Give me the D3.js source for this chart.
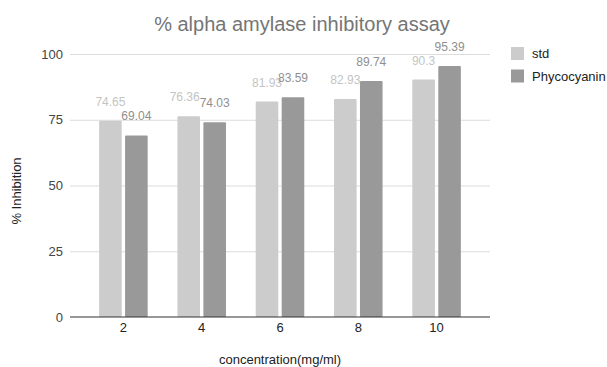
<!DOCTYPE html>
<html>
<head>
<meta charset="utf-8">
<script src="https://cdn.jsdelivr.net/npm/d3@7"></script>
<style>
  html, body { margin: 0; padding: 0; background: #fff; }
  svg { display: block; font-family: "Liberation Sans", Arial, sans-serif; }
</style>
</head>
<body>
<svg id="chart" width="607" height="367"></svg>
<script>
// Concentrations (mg/ml) and % inhibition for each sample
const concentrations = ["2", "4", "6", "8", "10"];
const seriesNames = ["std", "Phycocyanin"];
const stdValues = [74.65, 76.36, 81.93, 82.93, 90.3];
const phycocyaninValues = [69.04, 74.03, 83.59, 89.74, 95.39];
const yTicks = [0, 25, 50, 75, 100];

const seriesColors = ["#cccccc", "#999999"];
const labelColors = ["#c4c4c4", "#8f8f8f"];

const svg = d3.select("#chart");
const plot = { left: 70, right: 490, top: 54, bottom: 317 };

const x0 = d3.scaleBand()
  .domain(concentrations)
  .range([plot.left, plot.right])
  .paddingInner(0.38)
  .paddingOuter(0.372);

const x1 = d3.scaleBand()
  .domain(seriesNames)
  .range([0, x0.bandwidth()])
  .paddingInner(0.13);

const y = d3.scaleLinear().domain([0, 100]).range([plot.bottom, plot.top]);

const rows = concentrations.map((c, i) => ({
  c,
  values: [stdValues[i], phycocyaninValues[i]]
}));

// Title
svg.append("text")
  .attr("x", 302).attr("y", 31)
  .attr("text-anchor", "middle")
  .attr("font-size", 20)
  .attr("fill", "#757575")
  .text("% alpha amylase inhibitory assay");

// Gridlines
svg.append("g")
  .selectAll("line")
  .data(yTicks.filter(t => t !== 0))
  .join("line")
  .attr("x1", plot.left).attr("x2", plot.right)
  .attr("y1", d => y(d) + 0.5).attr("y2", d => y(d) + 0.5)
  .attr("stroke", "#dcdcdc").attr("stroke-width", 1);

// Y axis labels
const yAxis = svg.append("g")
  .attr("transform", `translate(${plot.left - 7},0)`)
  .call(d3.axisLeft(y).tickValues(yTicks).tickSize(0).tickPadding(0));
yAxis.select(".domain").remove();
yAxis.selectAll("text")
  .attr("font-size", 13)
  .attr("font-family", "Liberation Sans, Arial, sans-serif")
  .attr("fill", "#444");

// Bars
const groups = svg.append("g")
  .selectAll("g")
  .data(rows)
  .join("g")
  .attr("transform", d => `translate(${x0(d.c)},0)`);

groups.selectAll("rect")
  .data(d => d.values.map((v, k) => ({ name: seriesNames[k], v, k })))
  .join("rect")
  .attr("x", d => x1(d.name))
  .attr("y", d => y(d.v))
  .attr("width", x1.bandwidth())
  .attr("height", d => y(0) - y(d.v))
  .attr("rx", 1)
  .attr("fill", d => seriesColors[d.k]);

// Baseline
svg.append("line")
  .attr("x1", plot.left).attr("x2", plot.right)
  .attr("y1", y(0)).attr("y2", y(0))
  .attr("stroke", "#333").attr("stroke-width", 1.2);

// X axis labels
const xAxis = svg.append("g")
  .attr("transform", `translate(0,${plot.bottom})`)
  .call(d3.axisBottom(x0).tickSize(0).tickPadding(6));
xAxis.select(".domain").remove();
xAxis.selectAll("text")
  .attr("font-size", 13)
  .attr("font-family", "Liberation Sans, Arial, sans-serif")
  .attr("fill", "#222");

// Value labels above each bar; a std label that sits above an overlapping
// Phycocyanin label is nudged left out of its way.
const labelSize = 12;
const labelLayer = svg.append("g");
rows.forEach(row => {
  const placed = row.values.map((v, k) => {
    const name = seriesNames[k];
    const cx = x0(row.c) + x1(name) + x1.bandwidth() / 2;
    const t = labelLayer.append("text")
      .attr("x", cx)
      .attr("y", y(v) - 15)
      .attr("text-anchor", "middle")
      .attr("font-size", labelSize)
      .attr("fill", labelColors[k])
      .text(String(v));
    const w = t.node().getComputedTextLength();
    return { t, cx, w, base: y(v) - 15 };
  });
  const [a, b] = placed;
  const vOverlap = Math.abs(a.base - b.base) < labelSize;
  const hOverlap = (a.cx + a.w / 2) - (b.cx - b.w / 2);
  if (vOverlap && hOverlap > 0 && a.base < b.base - labelSize * 0.4) {
    a.t.attr("x", a.cx - hOverlap);
  }
  labelLayer.node().appendChild(b.t.node());
});

// Axis titles
svg.append("text")
  .attr("x", (plot.left + plot.right) / 2).attr("y", 364)
  .attr("text-anchor", "middle")
  .attr("font-size", 13)
  .attr("fill", "#222")
  .text("concentration(mg/ml)");

svg.append("text")
  .attr("transform", "translate(21,191) rotate(-90)")
  .attr("text-anchor", "middle")
  .attr("font-size", 13)
  .attr("fill", "#222")
  .text("% Inhibition");

// Legend
const legend = svg.append("g").attr("transform", "translate(511,47)");
const items = legend.selectAll("g")
  .data(seriesNames)
  .join("g")
  .attr("transform", (d, i) => `translate(0,${i * 22.5})`);
items.append("rect")
  .attr("width", 13).attr("height", 13)
  .attr("fill", (d, i) => seriesColors[i]);
items.append("text")
  .attr("x", 21).attr("y", 11)
  .attr("font-size", 13)
  .attr("fill", "#222")
  .text(d => d);
</script>
</body>
</html>
